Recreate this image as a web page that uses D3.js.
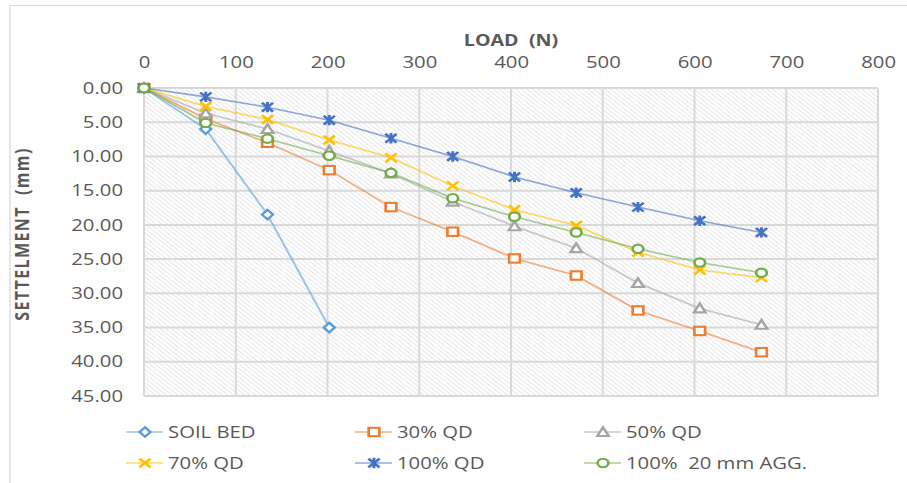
<!DOCTYPE html>
<html><head><meta charset="utf-8">
<script src="https://cdn.jsdelivr.net/npm/d3@7"></script>
<style>body{margin:0;background:#fff;} svg{display:block} text{white-space:pre}</style>
</head><body>
<script>
// ---- data ----
const loads   = [0, 67.3, 134.6, 201.9, 269.2, 336.5, 403.8, 471.1, 538.4, 605.7, 673];
const soilBed = [0, 6.0, 18.5, 35.0];
const qd30    = [0, 4.5, 8.0, 12.0, 17.4, 21.0, 24.9, 27.4, 32.5, 35.5, 38.6];
const qd50    = [0, 3.7, 6.0, 9.2, 12.5, 16.6, 20.2, 23.4, 28.5, 32.2, 34.6];
const qd70    = [0, 2.7, 4.6, 7.6, 10.2, 14.3, 17.8, 20.1, 24.0, 26.6, 27.7];
const qd100   = [0, 1.3, 2.8, 4.7, 7.35, 10.0, 13.0, 15.3, 17.4, 19.4, 21.1];
const agg20   = [0, 5.1, 7.4, 9.9, 12.4, 16.1, 18.8, 21.1, 23.5, 25.5, 27.0];
const seriesNames = ["SOIL BED", "30% QD", "50% QD", "70% QD", "100% QD", "100%  20 mm AGG."];
const seriesValues = [soilBed, qd30, qd50, qd70, qd100, agg20];
const seriesColors = ["#5B9BD5", "#ED7D31", "#A5A5A5", "#FFC000", "#4472C4", "#70AD47"];
const seriesMarkers = ["diamond", "square", "triangle", "x", "star", "circle"];
const xTicks = [0, 100, 200, 300, 400, 500, 600, 700, 800];
const yTicks = [0, 5, 10, 15, 20, 25, 30, 35, 40, 45];
const xTitle = "LOAD  (N)";
const yTitle = "SETTELMENT  (mm)";

// ---- layout ----
const W = 907, H = 483, SX = 1.27;
const svg = d3.select("body").append("svg")
  .attr("width", W).attr("height", H)
  .attr("viewBox", `0 0 ${W / SX} ${H}`)
  .attr("preserveAspectRatio", "none");

const x = d3.scaleLinear().domain([0, 800]).range([144 / SX, 878 / SX]);
const y = d3.scaleLinear().domain([0, 45]).range([88, 396]);
const txt = "#595959", font = "'Open Sans', sans-serif";

// chart border
svg.append("rect").attr("x", 10 / SX).attr("y", 5.5).attr("width", 1000).attr("height", 600)
  .attr("fill", "#fff").attr("stroke", "#d9d9d9").attr("stroke-width", 1);

// hatch pattern
const defs = svg.append("defs");
const P = 4.4;
const pat = defs.append("pattern").attr("id", "hatch").attr("patternUnits", "userSpaceOnUse")
  .attr("width", P).attr("height", P);
pat.append("path").attr("d", `M-1,-1 L${P + 1},${P + 1} M-1,${P - 1} L1,${P + 1} M${P - 1},-1 L${P + 1},1`)
  .attr("stroke", "#dedede").attr("stroke-width", 0.75);

svg.append("rect").attr("x", x(0)).attr("y", y(0))
  .attr("width", x(800) - x(0)).attr("height", y(45) - y(0))
  .attr("fill", "url(#hatch)");

// gridlines
const grid = svg.append("g");
grid.selectAll("line.h").data(yTicks).join("line").attr("class", "h")
  .attr("x1", x(0)).attr("x2", x(800)).attr("y1", d => y(d)).attr("y2", d => y(d))
  .attr("stroke", "#d9d9d9").attr("stroke-width", 2);
grid.selectAll("line.v").data(xTicks).join("line").attr("class", "v")
  .attr("x1", d => x(d)).attr("x2", d => x(d)).attr("y1", y(0)).attr("y2", y(45))
  .attr("stroke", "#d9d9d9").attr("stroke-width", 2 / SX);

// axes
const xAxis = svg.append("g").attr("transform", `translate(0,${y(0)})`)
  .call(d3.axisTop(x).tickValues(xTicks).tickSize(0).tickPadding(20).tickFormat(d3.format("d")));
xAxis.select(".domain").remove();
xAxis.selectAll("text").attr("fill", txt).style("font-family", font).style("font-size", "16px");

const yAxis = svg.append("g").attr("transform", `translate(${123 / SX},0)`)
  .call(d3.axisLeft(y).tickValues(yTicks).tickSize(0).tickPadding(0).tickFormat(d3.format(".2f")));
yAxis.select(".domain").remove();
yAxis.selectAll("text").attr("fill", txt).style("font-family", font).style("font-size", "16px");

// titles
svg.append("text").attr("x", 511 / SX).attr("y", 46.5).attr("text-anchor", "middle")
  .attr("fill", txt).style("font-family", font).style("font-size", "15.5px").style("font-weight", "bold")
  .text(xTitle);
svg.append("text").attr("transform", `translate(${28.5 / SX},234) rotate(-90)`).attr("text-anchor", "middle")
  .attr("fill", txt).style("font-family", font).style("font-size", "16px").style("font-weight", "bold")
  .style("letter-spacing", "1.4px")
  .text(yTitle);

// markers
function drawMarker(g, type, color) {
  const sw = 2.1;
  if (type === "diamond") {
    g.append("path").attr("d", "M0,-4.8 L4.3,0 L0,4.8 L-4.3,0 Z").attr("fill", "#fff").attr("stroke", color).attr("stroke-width", sw);
  } else if (type === "square") {
    g.append("rect").attr("x", -4.2).attr("y", -4.2).attr("width", 8.4).attr("height", 8.4).attr("fill", "#fff").attr("stroke", color).attr("stroke-width", sw);
  } else if (type === "triangle") {
    g.append("path").attr("d", "M0,-4.8 L4.5,4 L-4.5,4 Z").attr("fill", "#fff").attr("stroke", color).attr("stroke-width", sw);
  } else if (type === "x") {
    g.append("path").attr("d", "M-4.4,-4.4 L4.4,4.4 M-4.4,4.4 L4.4,-4.4").attr("fill", "none").attr("stroke", color).attr("stroke-width", 2.3);
  } else if (type === "star") {
    g.append("path").attr("d", "M-4.4,-4.4 L4.4,4.4 M-4.4,4.4 L4.4,-4.4 M0,-5.2 L0,5.2").attr("fill", "none").attr("stroke", color).attr("stroke-width", 2.3);
  } else if (type === "circle") {
    g.append("circle").attr("r", 4.2).attr("fill", "#fff").attr("stroke", color).attr("stroke-width", sw);
  }
}

// series
const line = d3.line().x(d => x(d[0])).y(d => y(d[1]));
seriesValues.forEach((vals, i) => {
  const pts = vals.map((v, j) => [loads[j], v]);
  const g = svg.append("g");
  g.append("path").datum(pts).attr("d", line).attr("fill", "none")
    .attr("stroke", seriesColors[i]).attr("stroke-opacity", 0.6).attr("stroke-width", 1.6);
  pts.forEach(p => {
    const mg = g.append("g").attr("transform", `translate(${x(p[0])},${y(p[1])})`);
    drawMarker(mg, seriesMarkers[i], seriesColors[i]);
  });
});

// legend
const legCols = [126, 355, 584], legRows = [432, 463];
seriesNames.forEach((name, i) => {
  const col = i % 3, row = Math.floor(i / 3);
  const lx = legCols[col] / SX, ly = legRows[row];
  const g = svg.append("g").attr("transform", `translate(${lx},${ly})`);
  g.append("line").attr("x1", 0).attr("x2", 37 / SX).attr("y1", 0).attr("y2", 0)
    .attr("stroke", seriesColors[i]).attr("stroke-opacity", 0.6).attr("stroke-width", 1.6);
  const mg = g.append("g").attr("transform", `translate(${19 / SX},0)`);
  drawMarker(mg, seriesMarkers[i], seriesColors[i]);
  g.append("text").attr("x", 42 / SX).attr("y", 5.8).attr("fill", txt)
    .style("font-family", font).style("font-size", "16px").text(name);
});
</script>
</body></html>
